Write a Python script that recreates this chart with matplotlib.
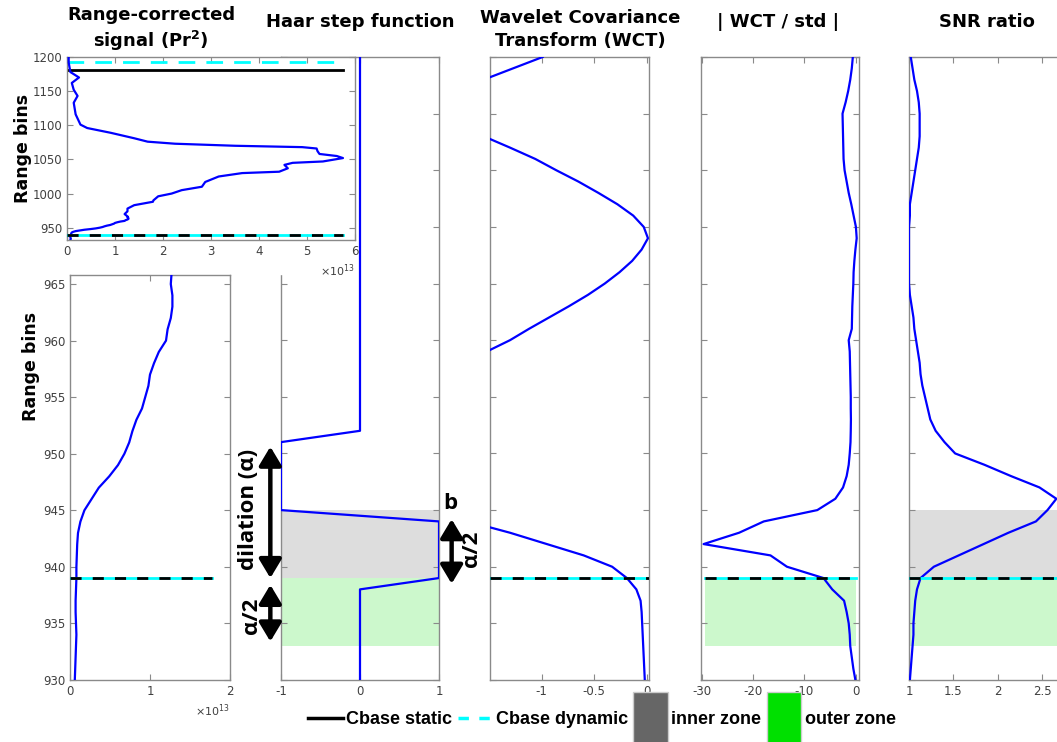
import matplotlib
matplotlib.use('Agg')
import matplotlib.pyplot as plt
import matplotlib.patches as mpatches
from matplotlib.lines import Line2D
from matplotlib.legend_handler import HandlerPatch
from matplotlib.ticker import ScalarFormatter

plt.rcParams['font.family'] = ['DejaVu Sans']
plt.rcParams['axes.unicode_minus'] = False

# range-corrected signal Pr^2 (units of 1e13) over the full profile
pr2_bins = [930, 931, 932, 933, 934, 935, 936, 937, 938, 939, 940, 941, 942, 943,
            944, 945, 946, 947, 948, 949, 950, 951, 952, 953, 954, 955, 956, 957,
            958, 959, 960, 961, 962, 963, 964, 965, 966, 970, 974, 978, 983, 988,
            990, 996, 1000, 1005, 1010, 1017, 1025, 1030, 1032, 1037, 1042, 1045,
            1047, 1052, 1055, 1058, 1062, 1066, 1068, 1070, 1073, 1076, 1081, 1089,
            1096, 1101, 1116, 1133, 1143, 1152, 1162, 1170, 1178, 1192, 1200]
pr2_vals = [0.06, 0.065, 0.07, 0.075, 0.08, 0.075, 0.07, 0.07, 0.075, 0.08, 0.08,
            0.085, 0.09, 0.10, 0.13, 0.18, 0.27, 0.36, 0.49, 0.60, 0.68, 0.74, 0.78,
            0.83, 0.90, 0.94, 0.98, 1.00, 1.05, 1.11, 1.20, 1.22, 1.26, 1.28, 1.28,
            1.26, 1.27, 1.20, 1.26, 1.26, 1.40, 1.79, 1.80, 1.90, 2.18, 2.39, 2.81,
            2.88, 3.16, 3.65, 4.42, 4.60, 4.53, 4.70, 5.33, 5.75, 5.62, 5.26, 5.22,
            5.20, 4.90, 3.50, 2.25, 1.68, 1.40, 0.91, 0.42, 0.28, 0.18, 0.14, 0.22,
            0.14, 0.10, 0.25, 0.07, 0.035, 0.035]

# zoomed window around the cloud base
win_bins = list(range(930, 986))
wct_vals = [-0.02, -0.025, -0.03, -0.035, -0.04, -0.045, -0.05, -0.06, -0.10, -0.19,
            -0.33, -0.60, -0.95, -1.30, -1.70, -2.10, -2.40, -2.60, -2.70, -2.70,
            -2.60, -2.50, -2.40, -2.30, -2.20, -2.10, -2.00, -1.90, -1.75, -1.52,
            -1.30, -1.12, -0.93, -0.74, -0.56, -0.40, -0.26, -0.14, -0.05, 0.01,
            -0.03, -0.13, -0.28, -0.46, -0.65, -0.86, -1.06, -1.30, -1.55, -1.80,
            -2.00, -2.05, -1.90, -1.55, -1.27, -0.99]
wct_std_vals = [-0.1, -0.5, -0.8, -1.1, -1.2, -1.4, -1.8, -2.3, -4.6, -6.3,
                -13.4, -16.6, -29.6, -22.7, -17.9, -7.5, -4.0, -2.5, -1.8, -1.4,
                -1.2, -1.05, -1.0, -0.97, -1.0, -1.0, -1.05, -1.1, -1.15, -1.2,
                -1.4, -0.8, -0.75, -0.7, -0.6, -0.5, -0.45, -0.3, -0.1, 0.15,
                0.0, -0.45, -0.9, -1.4, -1.8, -2.2, -2.4, -2.45, -2.5, -2.55,
                -2.6, -2.0, -1.5, -1.1, -0.8, -0.6]
snr_vals = [1.01, 1.02, 1.03, 1.04, 1.05, 1.05, 1.06, 1.07, 1.09, 1.13,
            1.28, 1.56, 1.84, 2.12, 2.43, 2.56, 2.66, 2.47, 2.15, 1.85,
            1.52, 1.40, 1.30, 1.24, 1.21, 1.18, 1.15, 1.13, 1.12, 1.10,
            1.08, 1.06, 1.05, 1.03, 1.01, 1.00, 1.00, 1.00, 1.00, 1.00,
            1.00, 1.01, 1.01, 1.03, 1.05, 1.07, 1.09, 1.11, 1.12, 1.12,
            1.12, 1.11, 1.09, 1.06, 1.04, 1.02]

# Haar wavelet at dilation a=12 centred on b
haar_bins = [930, 938, 939, 944, 945, 951, 952, 985]
haar_vals = [0, 0, 1, 1, -1, -1, 0, 0]

cbase = 939
dilation = 12
top_static = 1181
top_dynamic = 1192
inner_zone = (939, 945)
outer_zone = (933, 939)

BLUE = (0, 0, 1)
CYAN = '#00ffff'
GREY = '#666666'
GREEN = '#00e000'
SPINE = '#8a8a8a'

W, H = 1057, 742
fig = plt.figure(figsize=(W / 100, H / 100), dpi=100)


def px_axes(x0, y0, x1, y1, **kw):
    return fig.add_axes([x0 / W, 1 - y1 / H, (x1 - x0) / W, (y1 - y0) / H], **kw)


def style(ax):
    ax.tick_params(direction='in', top=True, right=True, length=4, width=0.8,
                   colors=SPINE, labelcolor='#404040', labelsize=8.5)
    for s in ax.spines.values():
        s.set_color(SPINE)
        s.set_linewidth(1.0)


def base_line(ax, x0, x1):
    ax.plot([x0, x1], [cbase, cbase], color=CYAN, lw=2, zorder=3)
    ax.plot([x0, x1], [cbase, cbase], color='k', lw=2, dashes=(4, 4), zorder=4)


def sci_axis(ax):
    ax.xaxis.set_major_formatter(ScalarFormatter(useMathText=True))
    off = ax.xaxis.get_offset_text()
    off.set_size(8)
    off.set_color('#404040')


pr2 = [v * 1e13 for v in pr2_vals]

# ---- Haar step function
haar = px_axes(281, 57, 439, 680)
haar.axhspan(*inner_zone, color=GREY, alpha=0.22, lw=0, zorder=1)
haar.axhspan(*outer_zone, color=GREEN, alpha=0.2, lw=0, zorder=1)
haar.plot(haar_vals, haar_bins, color=BLUE, lw=1.6, zorder=3)
haar.set_xlim(-1, 1)
haar.set_ylim(930, 985)
haar.set_xticks([-1, 0, 1])
haar.set_yticks(range(930, 986, 5))
haar.set_yticklabels([])
style(haar)

arrow = dict(arrowstyle='<|-|>,head_length=0.75,head_width=0.45', color='k',
             lw=3.2, mutation_scale=15, shrinkA=0, shrinkB=0)
haar.annotate('', xy=(-1.135, cbase), xytext=(-1.135, cbase + dilation - 0.4),
              arrowprops=arrow, annotation_clip=False)
haar.annotate('', xy=(-1.135, cbase - dilation / 2 + 0.4), xytext=(-1.135, cbase - 0.6),
              arrowprops=arrow, annotation_clip=False)
haar.annotate('', xy=(1.16, cbase - 0.5), xytext=(1.16, cbase + dilation / 2 - 0.8),
              arrowprops=arrow, annotation_clip=False)
annot = dict(family=['Open Sans', 'DejaVu Sans'], weight='bold', size=16,
             ha='center', va='center', clip_on=False)
haar.text(-1.41, 945.1, 'dilation (α)', rotation=90, **annot)
haar.text(-1.37, 935.7, 'α/2', rotation=90, **annot)
haar.text(1.41, 941.6, 'α/2', rotation=90, **annot)
haar.text(1.14, 945.6, 'b', **annot)

# keep the Haar spine hidden under the inset's tick labels
fig.add_artist(mpatches.Rectangle((272 / W, 1 - 274 / H), 20 / W, 36 / H,
                                  transform=fig.transFigure, color='white',
                                  zorder=1))

# ---- full Pr^2 profile (inset)
full = px_axes(67, 57, 355, 240, zorder=2)
full.plot(pr2, pr2_bins, color=BLUE, lw=1.6, zorder=3)
full.plot([0, max(pr2)], [top_dynamic, top_dynamic], color=CYAN, lw=2, dashes=(6, 4))
full.plot([0, max(pr2)], [top_static, top_static], color='k', lw=2)
base_line(full, 0, max(pr2))
full.set_xlim(0, 6e13)
full.set_ylim(932, 1200)
full.set_yticks(range(950, 1201, 50))
sci_axis(full)
style(full)
full.set_ylabel('Range bins', fontsize=12.5, weight='bold')
full.yaxis.set_label_coords(-0.123, 0.5)

# ---- Pr^2 zoomed on the base
low = px_axes(70, 275, 230, 680)
low.plot(pr2, pr2_bins, color=BLUE, lw=1.6, zorder=3)
base_line(low, 0, 1.77e13)
low.set_xlim(0, 2e13)
low.set_ylim(930, 965.8)
low.set_xticks([0, 1e13, 2e13])
low.set_yticks(range(930, 966, 5))
sci_axis(low)
style(low)
low.set_ylabel('Range bins', fontsize=12.5, weight='bold')
low.yaxis.set_label_coords(-0.19, 0.773)

# ---- wavelet covariance transform
wct = px_axes(490, 57, 649, 680)
wct.plot(wct_vals, win_bins, color=BLUE, lw=1.6, zorder=3)
base_line(wct, -1.49, 0.02)
wct.set_xlim(-1.49, 0.02)
wct.set_ylim(930, 985)
wct.set_xticks([-1, -0.5, 0])
wct.set_xticklabels(['-1', '-0.5', '0'])
wct.set_yticks(range(930, 986, 5))
wct.set_yticklabels([])
style(wct)

# ---- |WCT / std|
wstd = px_axes(701, 57, 859, 680)
wstd.fill_betweenx(outer_zone, min(wct_std_vals) + 0.3, 0, color=GREEN, alpha=0.2,
                   lw=0, zorder=1)
wstd.plot(wct_std_vals, win_bins, color=BLUE, lw=1.6, zorder=3)
base_line(wstd, min(wct_std_vals) + 0.3, 0)
wstd.set_xlim(-30.1, 0.6)
wstd.set_ylim(930, 985)
wstd.set_xticks([-30, -20, -10, 0])
wstd.set_yticks(range(930, 986, 5))
wstd.set_yticklabels([])
style(wstd)

# ---- SNR ratio
snr = px_axes(909, 57, 1067, 680)
snr.axhspan(*inner_zone, color=GREY, alpha=0.22, lw=0, zorder=1)
snr.axhspan(*outer_zone, color=GREEN, alpha=0.2, lw=0, zorder=1)
snr.plot(snr_vals, win_bins, color=BLUE, lw=1.6, zorder=3)
base_line(snr, 1, 2.78)
snr.set_xlim(1, 2.78)
snr.set_ylim(930, 985)
snr.set_xticks([1, 1.5, 2, 2.5])
snr.set_xticklabels(['1', '1.5', '2', '2.5'])
snr.set_yticks(range(930, 986, 5))
snr.set_yticklabels([])
style(snr)

# ---- titles
tkw = dict(fontsize=13, weight='bold', ha='center', va='center', linespacing=1.3)
fig.text(151 / W, 1 - 29.5 / H, 'Range-corrected\nsignal ($\\mathbf{Pr^2}$)', **tkw)
fig.text(360 / W, 1 - 22 / H, 'Haar step function', **tkw)
fig.text(580 / W, 1 - 29.5 / H, 'Wavelet Covariance\nTransform (WCT)', **tkw)
fig.text(778 / W, 1 - 22 / H, '| WCT / std |', **tkw)
fig.text(987 / W, 1 - 22 / H, 'SNR ratio', **tkw)


# ---- legend
def tall_box(legend, orig_handle, xdescent, ydescent, width, height, fontsize):
    extra = 1.6 * height
    return mpatches.Rectangle((-xdescent, -ydescent - extra), width, height + 2 * extra)


handles = [Line2D([], [], color='k', lw=2.5),
           Line2D([], [], color=CYAN, lw=2.5, dashes=(3, 3)),
           mpatches.Patch(facecolor=GREY, edgecolor='#cccccc'),
           mpatches.Patch(facecolor=GREEN, edgecolor='#cccccc')]
labels = ['Cbase static', 'Cbase dynamic', 'inner zone', 'outer zone']
fig.legend(handles, labels, loc='center', bbox_to_anchor=(602 / W, 1 - 720 / H),
           ncol=4, frameon=False, handlelength=1.9, handletextpad=0.2,
           columnspacing=0.3,
           prop=dict(family='Liberation Sans', weight='bold', size=13),
           handler_map={mpatches.Patch: HandlerPatch(patch_func=tall_box)})

fig.savefig('out.png', dpi=100)
